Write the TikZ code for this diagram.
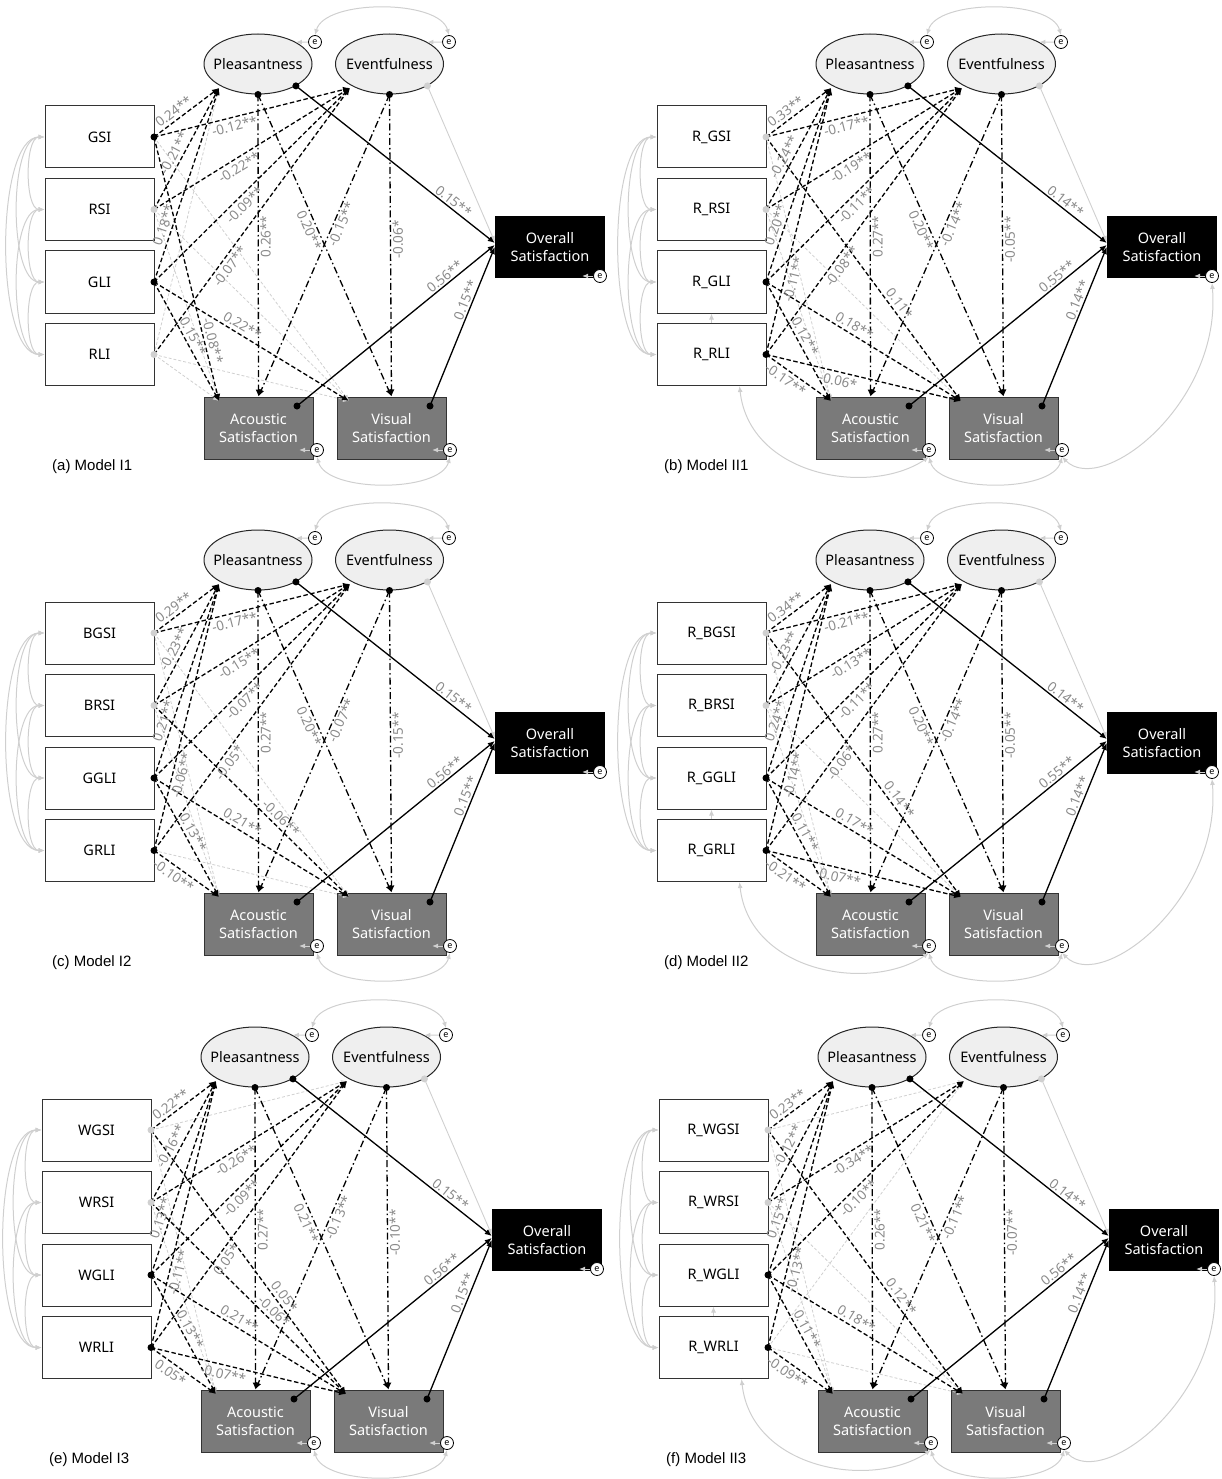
\documentclass[tikz,border=0pt]{standalone}
\usepackage{fontspec}
\setmainfont{Noto Sans}
\newfontfamily\capfont{Liberation Sans}
\usetikzlibrary{arrows.meta,shapes.geometric}
\definecolor{labgray}{HTML}{8A8A8A}
\definecolor{covgray}{HTML}{CFCFCF}
\definecolor{nsgray}{HTML}{D0D0D0}
\definecolor{endofill}{HTML}{7A7A7A}
\definecolor{latfill}{HTML}{EFEFEF}
\definecolor{dotgray}{HTML}{D0D0D0}
\tikzset{
 mainfont/.style={font=\fontsize{14.5}{18}\selectfont},
 obsbox/.style={mainfont, draw=black!80, line width=1pt, fill=white, minimum width=109pt, minimum height=62pt, inner sep=0pt},
 latent/.style={mainfont, ellipse, draw=black!85, line width=1pt, fill=latfill, minimum width=108pt, minimum height=60pt, inner sep=0pt},
 endobox/.style={mainfont, draw=black!80, line width=1pt, fill=endofill, text=white, minimum width=109pt, minimum height=62pt, inner sep=0pt, align=center},
 outbox/.style={mainfont, fill=black, text=white, minimum width=110pt, minimum height=62pt, inner sep=0pt, align=center},
 errc/.style={circle, draw=black, line width=0.8pt, fill=white, minimum size=13pt, inner sep=0pt, font=\fontsize{9}{9}\selectfont},
 tip/.style={-{Latex[length=7pt,width=6pt]}},
 sigedge/.style={draw=black, line width=1.3pt, dash pattern=on 4.5pt off 2.5pt, tip},
 nsedge/.style={draw=nsgray, line width=0.8pt, dash pattern=on 3pt off 2pt, -{Latex[length=6pt,width=5pt]}},
 ddedge/.style={draw=black, line width=1.3pt, dash pattern=on 7pt off 3pt on 1.5pt off 3pt, tip},
 soledge/.style={draw=black, line width=1.3pt, tip},
 lightedge/.style={draw=nsgray, line width=0.9pt, -{Latex[length=6pt,width=5pt]}},
 covarc/.style={draw=covgray, line width=1pt, {Latex[length=6pt,width=5pt]}-{Latex[length=6pt,width=5pt]}},
 errarrow/.style={draw=covgray, line width=1pt, -{Latex[length=6pt,width=5pt]}},
 lab/.style={text=labgray, font=\fontsize{13.5}{14}\selectfont, inner sep=1.5pt},
 captext/.style={font=\capfont\fontsize{15}{15}\selectfont, anchor=west, inner sep=0pt},
}
% nodes of one panel
\newcommand\panelnodes[8]{%
 \begin{scope}[shift={(#2,#3)}]
 \node[obsbox] (#1B1) at (99.5,137) {#4};
 \node[obsbox] (#1B2) at (99.5,209.5) {#5};
 \node[obsbox] (#1B3) at (99.5,282) {#6};
 \node[obsbox] (#1B4) at (99.5,354.5) {#7};
 \node[latent] (#1P) at (258,64) {\makebox[40pt]{Pleasantness}};
 \node[latent] (#1E) at (389.5,64) {\makebox[40pt]{Eventfulness}};
 \node[endobox] (#1A) at (258.5,428) {Acoustic\\Satisfaction};
 \node[endobox] (#1V) at (391.5,428) {Visual\\Satisfaction};
 \node[outbox] (#1O) at (550,247) {Overall\\Satisfaction};
 \node[errc] (#1Pe) at (315,42) {e};
 \node[errc] (#1Ee) at (449,42) {e};
 \node[errc] (#1Oe) at (600,276) {e};
 \node[errc] (#1Ae) at (317,450) {e};
 \node[errc] (#1Ve) at (450,450) {e};
 \coordinate (#1S1) at (154,137);
 \coordinate (#1S2) at (154,209.5);
 \coordinate (#1S3) at (154,282);
 \coordinate (#1S4) at (154,354.5);
 \coordinate (#1Pi) at (219,88);
 \coordinate (#1Ei) at (350,88);
 \coordinate (#1Ai) at (219,401);
 \coordinate (#1Vi) at (349,401);
 \coordinate (#1Ao) at (297,406);
 \coordinate (#1Vo) at (430,406);
 \node[captext] (#1cap) at (52,467) {#8};
 \end{scope}}
% structural paths of one panel
\newcommand\panelpaths[8]{%
 \draw[covarc] (#1B1.west) .. controls +(-20,0) and +(-20,0) .. (#1B2.west);
 \draw[covarc] (#1B2.west) .. controls +(-20,0) and +(-20,0) .. (#1B3.west);
 \draw[covarc] (#1B3.west) .. controls +(-20,0) and +(-20,0) .. (#1B4.west);
 \draw[covarc] (#1B1.west) .. controls +(-36,0) and +(-36,0) .. (#1B3.west);
 \draw[covarc] (#1B2.west) .. controls +(-36,0) and +(-36,0) .. (#1B4.west);
 \draw[covarc] (#1B1.west) .. controls +(-50,0) and +(-50,0) .. (#1B4.west);
 \draw[covarc] (#1Pe.north) .. controls +(10,-36) and +(-10,-36) .. (#1Ee.north);
 \draw[covarc] (#1Ae.south) .. controls +(10,36) and +(-10,36) .. (#1Ve.south);
 \draw[errarrow] (#1Pe) -- (#1P.30);
 \draw[errarrow] (#1Ee) -- (#1E.30);
 \draw[errarrow] (#1Ae.west) -- ([xshift=-11pt]#1Ae.west);
 \draw[errarrow] (#1Ve.west) -- ([xshift=-11pt]#1Ve.west);
 \draw[errarrow] (#1Oe.west) -- ([xshift=-11pt]#1Oe.west);
 \draw[ddedge] (#1P.south) -- node[lab, pos=.47, rotate=90, anchor=north] {#2} (#1A.north);
 \draw[ddedge] (#1P.south) -- node[lab, sloped, pos=.44, below] {#3} (#1V.north);
 \draw[ddedge] (#1E.south) -- node[lab, sloped, pos=.42, below] {#4} (#1A.north);
 \draw[ddedge] (#1E.south) -- node[lab, pos=.48, rotate=90, anchor=north] {#5} (#1V.north);
 \draw[lightedge] (#1E.-30) -- ([yshift=5pt]#1O.west);
 \draw[soledge] (#1P.-30) -- node[lab, sloped, pos=.77, above] {#6} ([yshift=4pt]#1O.west);
 \draw[soledge] (#1Ao) -- node[lab, sloped, pos=.77, above] {#7} ([yshift=2pt]#1O.west);
 \draw[soledge] (#1Vo) -- node[lab, sloped, pos=.65, above] {#8} (#1O.west);
 \fill[black] (#1P.south) circle (3.5);
 \fill[black] (#1E.south) circle (3.5);
 \fill[black] (#1P.-30) circle (3.5);
 \fill[dotgray] (#1E.-30) circle (3.5);
 \fill[black] (#1Ao) circle (3.5);
 \fill[black] (#1Vo) circle (3.5);}
\newcommand\sig[6]{\draw[sigedge] (#1#2) -- node[lab, sloped, pos=#5, #6=1.5pt] {#4} (#1#3);}
\newcommand\nsg[3]{\draw[nsedge] (#1#2) -- (#1#3);}
\newcommand\srcdots[5]{%
 \fill[#2] (#1S1) circle (3.5); \fill[#3] (#1S2) circle (3.5);
 \fill[#4] (#1S3) circle (3.5); \fill[#5] (#1S4) circle (3.5);}
\newcommand\modeltwo[1]{%
 \draw[errarrow] (#1B4.north) -- (#1B3.south);
 \draw[covarc] ([xshift=28pt]#1B4.south) .. controls +(10,90) and +(-60,40) .. (#1Ae.south);
 \draw[covarc] (#1Oe.south) .. controls +(10,120) and +(40,40) .. (#1Ve.south);}

\begin{document}
\begin{tikzpicture}[x=1pt,y=-1pt]
\useasboundingbox (0,0) rectangle (1221,1479);
\panelnodes{a}{0}{0}{GSI}{RSI}{GLI}{RLI}{(a) Model I1}
\panelnodes{b}{612}{0}{R\_GSI}{R\_RSI}{R\_GLI}{R\_RLI}{(b) Model II1}
\panelnodes{c}{0}{496}{BGSI}{BRSI}{GGLI}{GRLI}{(c) Model I2}
\panelnodes{d}{612}{496}{R\_BGSI}{R\_BRSI}{R\_GGLI}{R\_GRLI}{(d) Model II2}
\panelnodes{e}{-3}{993}{WGSI}{WRSI}{WGLI}{WRLI}{(e) Model I3}
\panelnodes{f}{614}{993}{R\_WGSI}{R\_WRSI}{R\_WGLI}{R\_WRLI}{(f) Model II3}

\modeltwo{b}\modeltwo{d}\modeltwo{f}

% panel a
\nsg{a}{S1}{Vi}\nsg{a}{S2}{Ai}\nsg{a}{S2}{Vi}\nsg{a}{S4}{Pi}\nsg{a}{S4}{Ai}\nsg{a}{S4}{Vi}
\panelpaths{a}{0.26**}{0.20**}{-0.15**}{-0.06*}{0.15**}{0.56**}{0.15**}
\sig{a}{S1}{Pi}{0.24**}{.38}{above}
\sig{a}{S1}{Ei}{-0.12**}{.4}{below}
\sig{a}{S1}{Ai}{-0.08**}{.78}{above}
\sig{a}{S2}{Pi}{-0.21**}{.43}{above}
\sig{a}{S2}{Ei}{-0.22**}{.41}{below}
\sig{a}{S3}{Pi}{0.18**}{.28}{above}
\sig{a}{S3}{Ei}{-0.09**}{.43}{below}
\sig{a}{S3}{Ai}{0.15**}{.49}{above}
\sig{a}{S3}{Vi}{0.22**}{.43}{above}
\sig{a}{S4}{Ei}{-0.07**}{.35}{below}
\srcdots{a}{black}{dotgray}{black}{dotgray}

% panel b
\nsg{b}{S1}{Ai}\nsg{b}{S2}{Ai}\nsg{b}{S2}{Vi}
\panelpaths{b}{0.27**}{0.20**}{-0.14**}{-0.05**}{0.14**}{0.55**}{0.14**}
\sig{b}{S1}{Pi}{0.33**}{.38}{above}
\sig{b}{S1}{Ei}{-0.17**}{.4}{below}
\sig{b}{S1}{Vi}{0.11*}{.65}{above}
\sig{b}{S2}{Pi}{-0.24**}{.4}{above}
\sig{b}{S2}{Ei}{-0.19**}{.41}{below}
\sig{b}{S3}{Pi}{0.20**}{.28}{above}
\sig{b}{S3}{Ei}{-0.11**}{.43}{below}
\sig{b}{S3}{Ai}{0.12**}{.49}{above}
\sig{b}{S3}{Vi}{0.18**}{.43}{above}
\sig{b}{S4}{Pi}{-0.11**}{.29}{below}
\sig{b}{S4}{Ei}{-0.08**}{.35}{below}
\sig{b}{S4}{Ai}{-0.17**}{.38}{below}
\sig{b}{S4}{Vi}{-0.06*}{.38}{below}
\srcdots{b}{dotgray}{dotgray}{black}{black}

% panel c
\nsg{c}{S1}{Ai}\nsg{c}{S1}{Vi}\nsg{c}{S2}{Ai}\nsg{c}{S4}{Vi}
\panelpaths{c}{0.27**}{0.20**}{-0.07**}{-0.15**}{0.15**}{0.56**}{0.15**}
\sig{c}{S1}{Pi}{0.29**}{.38}{above}
\sig{c}{S1}{Ei}{-0.17**}{.4}{below}
\sig{c}{S2}{Pi}{-0.23**}{.43}{above}
\sig{c}{S2}{Ei}{-0.15**}{.41}{below}
\sig{c}{S2}{Vi}{-0.06**}{.62}{above}
\sig{c}{S3}{Pi}{0.21**}{.28}{above}
\sig{c}{S3}{Ei}{-0.07**}{.43}{below}
\sig{c}{S3}{Ai}{0.13**}{.49}{above}
\sig{c}{S3}{Vi}{0.21**}{.43}{above}
\sig{c}{S4}{Pi}{-0.06**}{.29}{below}
\sig{c}{S4}{Ei}{-0.05*}{.35}{below}
\sig{c}{S4}{Ai}{-0.10**}{.38}{below}
\srcdots{c}{dotgray}{dotgray}{black}{black}

% panel d
\nsg{d}{S1}{Ai}\nsg{d}{S2}{Ai}\nsg{d}{S2}{Vi}
\panelpaths{d}{0.27**}{0.20**}{-0.14**}{-0.05**}{0.14**}{0.55**}{0.14**}
\sig{d}{S1}{Pi}{0.34**}{.38}{above}
\sig{d}{S1}{Ei}{-0.21**}{.4}{below}
\sig{d}{S1}{Vi}{0.14**}{.65}{above}
\sig{d}{S2}{Pi}{-0.23**}{.4}{above}
\sig{d}{S2}{Ei}{-0.13**}{.41}{below}
\sig{d}{S3}{Pi}{0.24**}{.28}{above}
\sig{d}{S3}{Ei}{-0.11**}{.43}{below}
\sig{d}{S3}{Ai}{0.11**}{.49}{above}
\sig{d}{S3}{Vi}{0.17**}{.43}{above}
\sig{d}{S4}{Pi}{-0.14**}{.29}{below}
\sig{d}{S4}{Ei}{-0.06*}{.35}{below}
\sig{d}{S4}{Ai}{-0.21**}{.38}{below}
\sig{d}{S4}{Vi}{-0.07**}{.38}{below}
\srcdots{d}{dotgray}{dotgray}{black}{black}

% panel e
\nsg{e}{S1}{Ei}\nsg{e}{S1}{Ai}\nsg{e}{S2}{Ai}
\panelpaths{e}{0.27**}{0.21**}{-0.13**}{-0.10**}{0.15**}{0.56**}{0.15**}
\sig{e}{S1}{Pi}{0.22**}{.38}{above}
\sig{e}{S1}{Vi}{0.05*}{.65}{above}
\sig{e}{S2}{Pi}{-0.16**}{.43}{above}
\sig{e}{S2}{Ei}{-0.26**}{.41}{below}
\sig{e}{S2}{Vi}{-0.06*}{.6}{above}
\sig{e}{S3}{Pi}{0.13**}{.28}{above}
\sig{e}{S3}{Ei}{-0.09**}{.43}{below}
\sig{e}{S3}{Ai}{0.13**}{.49}{above}
\sig{e}{S3}{Vi}{0.21**}{.43}{above}
\sig{e}{S4}{Pi}{-0.11**}{.29}{below}
\sig{e}{S4}{Ei}{0.05*}{.35}{below}
\sig{e}{S4}{Ai}{0.05*}{.38}{below}
\sig{e}{S4}{Vi}{-0.07**}{.38}{below}
\srcdots{e}{dotgray}{dotgray}{black}{black}

% panel f
\nsg{f}{S1}{Ei}\nsg{f}{S1}{Ai}\nsg{f}{S2}{Ai}\nsg{f}{S2}{Vi}\nsg{f}{S4}{Ei}\nsg{f}{S4}{Vi}
\panelpaths{f}{0.26**}{0.21**}{-0.11**}{-0.07**}{0.14**}{0.56**}{0.14**}
\sig{f}{S1}{Pi}{0.23**}{.38}{above}
\sig{f}{S1}{Vi}{0.12**}{.65}{above}
\sig{f}{S2}{Pi}{-0.12**}{.43}{above}
\sig{f}{S2}{Ei}{-0.34**}{.41}{below}
\sig{f}{S3}{Pi}{0.15**}{.28}{above}
\sig{f}{S3}{Ei}{-0.10**}{.43}{below}
\sig{f}{S3}{Ai}{0.11**}{.49}{above}
\sig{f}{S3}{Vi}{0.18**}{.43}{above}
\sig{f}{S4}{Pi}{-0.13**}{.3}{below}
\sig{f}{S4}{Ai}{-0.09**}{.38}{below}
\srcdots{f}{dotgray}{dotgray}{black}{black}
\end{tikzpicture}
\end{document}
